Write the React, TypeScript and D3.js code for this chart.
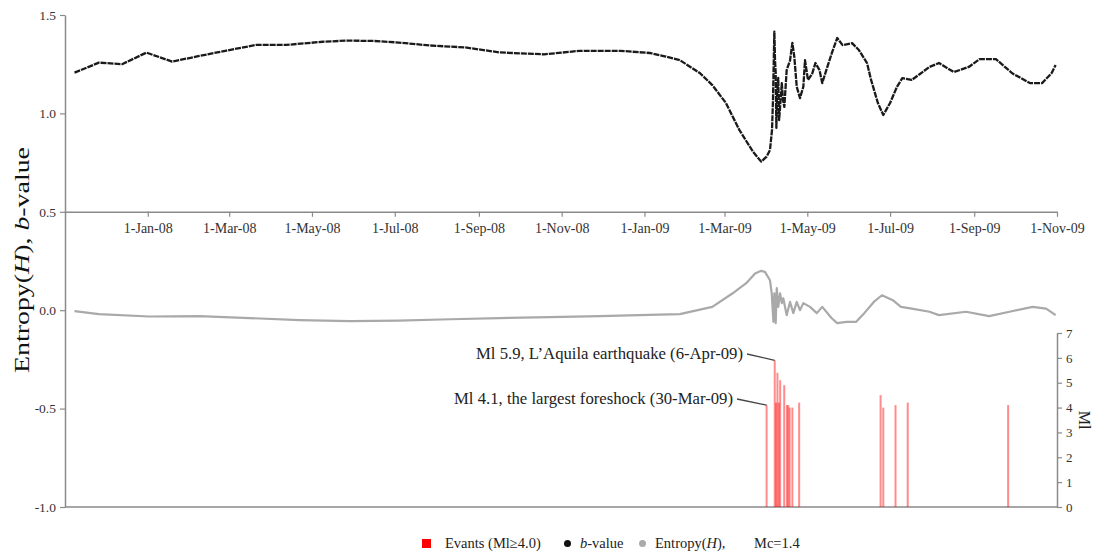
import React, { useEffect, useRef } from "react";
import * as d3 from "d3";

// b-value series
const bDates = [
  "2007-11-08", "2007-11-26", "2007-12-13", "2007-12-31", "2008-01-19", "2008-02-08",
  "2008-02-28", "2008-03-21", "2008-04-12", "2008-05-09", "2008-05-27", "2008-06-16",
  "2008-07-04", "2008-07-27", "2008-08-22", "2008-09-16", "2008-10-19", "2008-11-14",
  "2008-12-14", "2009-01-05", "2009-01-16", "2009-01-27", "2009-02-11", "2009-02-20",
  "2009-03-02", "2009-03-12", "2009-03-22", "2009-03-28", "2009-04-01", "2009-04-03 12:00",
  "2009-04-05 00:00", "2009-04-05 17:00", "2009-04-06 17:00", "2009-04-07 05:00", "2009-04-07 17:00",
  "2009-04-08 05:00", "2009-04-08 17:00", "2009-04-09 14:00", "2009-04-10 05:00", "2009-04-10 22:00",
  "2009-04-12 05:00", "2009-04-13 02:00", "2009-04-14 02:00", "2009-04-15 19:00", "2009-04-18 07:00",
  "2009-04-20", "2009-04-21 10:00", "2009-04-23 05:00", "2009-04-25 14:00", "2009-04-28 02:00",
  "2009-04-29 07:00", "2009-05-01 12:00", "2009-05-04 12:00", "2009-05-07", "2009-05-10",
  "2009-05-12", "2009-05-15", "2009-05-19", "2009-05-23", "2009-05-27", "2009-06-03",
  "2009-06-08", "2009-06-14", "2009-06-17", "2009-06-22", "2009-06-26", "2009-07-01",
  "2009-07-06", "2009-07-10", "2009-07-17", "2009-07-23", "2009-07-30", "2009-08-06",
  "2009-08-17", "2009-08-28", "2009-09-05", "2009-09-17", "2009-09-29", "2009-10-12",
  "2009-10-21", "2009-10-28", "2009-10-31",
];
const bValues = [
  1.207, 1.258, 1.25, 1.309, 1.263, 1.292,
  1.319, 1.348, 1.348, 1.364, 1.37, 1.368,
  1.36, 1.345, 1.335, 1.31, 1.3, 1.318,
  1.318, 1.307, 1.29, 1.271, 1.204, 1.144,
  1.053, 0.915, 0.805, 0.755, 0.78, 0.814,
  0.916, 1.068, 1.415, 1.27, 1.205,
  0.926, 1.09, 1.18, 0.966, 1.03,
  1.154, 1.068, 1.033, 1.22, 1.27,
  1.358, 1.288, 1.136, 1.078, 1.136,
  1.27, 1.17, 1.2, 1.256, 1.22,
  1.154, 1.22, 1.305, 1.383, 1.347, 1.357,
  1.322, 1.256, 1.17, 1.053, 0.992, 1.053,
  1.134, 1.179, 1.17, 1.2, 1.236, 1.256,
  1.21, 1.236, 1.276, 1.276, 1.204, 1.154,
  1.154, 1.204, 1.246,
];

// Entropy(H) series
const hDates = [
  "2007-11-08", "2007-11-26", "2008-01-02", "2008-02-08", "2008-03-16", "2008-04-22",
  "2008-05-29", "2008-07-04", "2008-08-11", "2008-09-16", "2008-10-23", "2008-11-29",
  "2008-12-28", "2009-01-27", "2009-02-20", "2009-03-07", "2009-03-17", "2009-03-23 12:00",
  "2009-03-28", "2009-03-30 19:00", "2009-04-03 12:00", "2009-04-04 19:00", "2009-04-06 00:00",
  "2009-04-06 17:00", "2009-04-07 17:00", "2009-04-08 12:00", "2009-04-09 14:00", "2009-04-10 22:00",
  "2009-04-12 05:00", "2009-04-13 07:00", "2009-04-15 19:00", "2009-04-18 07:00", "2009-04-20 17:00",
  "2009-04-23 05:00", "2009-04-25 14:00", "2009-04-28 02:00", "2009-05-03", "2009-05-08",
  "2009-05-12", "2009-05-19", "2009-05-23", "2009-05-30", "2009-06-06", "2009-06-12",
  "2009-06-19", "2009-06-25", "2009-07-03", "2009-07-09", "2009-07-17", "2009-07-30",
  "2009-08-06", "2009-08-26", "2009-09-12", "2009-09-27", "2009-10-14", "2009-10-24",
  "2009-10-31",
];
const hValues = [
  -0.005, -0.02, -0.032, -0.03, -0.04, -0.05,
  -0.056, -0.053, -0.046, -0.04, -0.035, -0.03,
  -0.025, -0.02, 0.017, 0.086, 0.137, 0.187,
  0.2, 0.195, 0.152, 0.086, -0.059,
  0.086, -0.066, 0.112, 0.017, 0.086,
  0.036, 0.061, -0.025, 0.042, -0.015,
  0.042, 0.0, 0.036, 0.017, -0.015,
  0.017, -0.041, -0.066, -0.059, -0.059, -0.015,
  0.042, 0.076, 0.051, 0.017, 0.008, -0.008,
  -0.025, -0.008, -0.03, -0.008, 0.017, 0.008,
  -0.025,
];

// Events Ml >= 4.0
const eventDates = [
  "2009-04-01", "2009-04-07", "2009-04-08", "2009-04-09", "2009-04-10", "2009-04-11",
  "2009-04-14", "2009-04-16", "2009-04-17", "2009-04-18", "2009-04-20", "2009-04-25",
  "2009-06-24", "2009-06-26", "2009-07-05", "2009-07-14", "2009-09-26",
];
const eventMl = [
  4.1, 5.9, 4.2, 5.4, 4.2, 5.1,
  4.9, 4.1, 4.1, 4.0, 4.0, 4.2,
  4.5, 4.0, 4.1, 4.2, 4.1,
];

const dateTicks = [
  "2008-01-01", "2008-03-01", "2008-05-01", "2008-07-01", "2008-09-01", "2008-11-01",
  "2009-01-01", "2009-03-01", "2009-05-01", "2009-07-01", "2009-09-01", "2009-11-01",
];
const leftTicks = [-1, -0.5, 0, 0.5, 1, 1.5];
const mlTicks = [0, 1, 2, 3, 4, 5, 6, 7];

const parseA = d3.timeParse("%Y-%m-%d %H:%M");
const parseB = d3.timeParse("%Y-%m-%d");
const parse = (s: string) => parseA(s) || parseB(s);

const FONT = "'Liberation Serif', 'Times New Roman', serif";
const AXIS = "#8a8a8a";
const TEXT = "#333";

const App = () => {
  const svgRef = useRef<SVGSVGElement>(null);
  const width = 1099;
  const height = 556;

  useEffect(() => {
    const svg = d3.select(svgRef.current);
    svg.selectAll("*").remove();
    svg.attr("width", width).attr("height", height);

    const x = d3
      .scaleTime()
      .domain([parse("2007-11-01"), parse("2009-11-01")] as Date[])
      .range([65, 1057]);
    const y = d3.scaleLinear().domain([-1, 1.5]).range([507, 15]);
    const ml = d3.scaleLinear().domain([0, 7]).range([507, 333]);

    const styleAxis = (g: any, size = 13) => {
      g.attr("font-family", FONT).attr("font-size", size);
      g.selectAll("path").attr("stroke", AXIS).attr("stroke-width", 1.5);
      g.selectAll("line").attr("stroke", AXIS).attr("stroke-width", 1.2);
      g.selectAll("text")
        .attr("fill", TEXT)
        .style("font-family", FONT)
        .style("font-size", `${size}px`);
    };

    // left axis
    const gl = svg
      .append("g")
      .attr("transform", "translate(65,0)")
      .call(
        d3.axisLeft(y)
          .tickValues(leftTicks)
          .tickFormat((d: any) => (+d).toFixed(1))
          .tickSize(5)
          .tickSizeOuter(0)
          .tickPadding(4)
      );
    styleAxis(gl, 13.5);

    // date axis through 0.5
    const gd = svg
      .append("g")
      .attr("transform", `translate(0,${y(0.5)})`)
      .call(
        d3.axisBottom(x)
          .tickValues(dateTicks.map(parse) as Date[])
          .tickFormat(d3.timeFormat("%-d-%b-%y") as any)
          .tickSize(5)
          .tickSizeOuter(0)
          .tickPadding(6)
      );
    styleAxis(gd, 14);

    // bottom baseline
    svg
      .append("line")
      .attr("x1", 65)
      .attr("x2", 1057)
      .attr("y1", y(-1))
      .attr("y2", y(-1))
      .attr("stroke", AXIS)
      .attr("stroke-width", 1.5);

    // right Ml axis
    const gr = svg
      .append("g")
      .attr("transform", "translate(1057,0)")
      .call(d3.axisRight(ml).tickValues(mlTicks).tickFormat(d3.format("d") as any).tickSize(5).tickSizeOuter(0).tickPadding(4));
    styleAxis(gr, 13);

    // events
    svg
      .append("g")
      .selectAll("rect")
      .data(eventDates.map((d, i) => ({ date: parse(d) as Date, v: eventMl[i] })))
      .enter()
      .append("rect")
      .attr("x", (d) => x(d.date) - 1)
      .attr("width", 2)
      .attr("y", (d) => ml(d.v))
      .attr("height", (d) => ml(0) - ml(d.v))
      .attr("fill", "#ff0000")
      .attr("fill-opacity", 0.45);

    // lines
    const line = d3
      .line<{ date: Date; v: number }>()
      .x((d) => x(d.date))
      .y((d) => y(d.v));

    svg
      .append("path")
      .datum(hDates.map((d, i) => ({ date: parse(d) as Date, v: hValues[i] })))
      .attr("d", line)
      .attr("fill", "none")
      .attr("stroke", "#a9a9a9")
      .attr("stroke-width", 2.2)
      .attr("stroke-linejoin", "round");

    svg
      .append("path")
      .datum(bDates.map((d, i) => ({ date: parse(d) as Date, v: bValues[i] })))
      .attr("d", line)
      .attr("fill", "none")
      .attr("stroke", "#1a1a1a")
      .attr("stroke-width", 2.3)
      .attr("stroke-linejoin", "round")
      .attr("stroke-dasharray", "6 1");

    // annotations
    const notes = [
      { text: "Ml 5.9, L\u2019Aquila earthquake (6-Apr-09)", end: 743, base: 359, len: 267, date: "2009-04-07", v: 5.9 },
      { text: "Ml 4.1, the largest foreshock (30-Mar-09)", end: 733, base: 404, len: 279, date: "2009-04-01", v: 4.1 },
    ];
    notes.forEach((n) => {
      svg
        .append("text")
        .attr("x", n.end)
        .attr("y", n.base)
        .attr("text-anchor", "end")
        .attr("textLength", n.len)
        .attr("lengthAdjust", "spacingAndGlyphs")
        .attr("fill", "#222")
        .style("font-family", FONT)
        .style("font-size", "17px")
        .text(n.text);
      svg
        .append("line")
        .attr("x1", n.end + 4)
        .attr("y1", n.base - 5)
        .attr("x2", x(parse(n.date) as Date))
        .attr("y2", ml(n.v))
        .attr("stroke", "#444")
        .attr("stroke-width", 1.3);
    });

    // y title
    const title = svg
      .append("text")
      .attr("transform", "translate(29,260) rotate(-90)")
      .attr("text-anchor", "middle")
      .attr("textLength", 226)
      .attr("lengthAdjust", "spacingAndGlyphs")
      .attr("fill", "#111")
      .style("font-family", FONT)
      .style("font-size", "20px");
    title.append("tspan").text("Entropy(");
    title.append("tspan").style("font-style", "italic").text("H");
    title.append("tspan").text("), ");
    title.append("tspan").style("font-style", "italic").text("b");
    title.append("tspan").text("-value");

    svg
      .append("text")
      .attr("transform", "translate(1079,420) rotate(90)")
      .attr("text-anchor", "middle")
      .attr("fill", "#222")
      .style("font-family", FONT)
      .style("font-size", "16px")
      .text("Ml");

    // legend
    const lg = svg.append("g").attr("fill", "#222");
    const legendText = (xp: number) =>
      lg
        .append("text")
        .attr("x", xp)
        .attr("y", 548)
        .style("font-family", FONT)
        .style("font-size", "14.5px");
    lg.append("rect").attr("x", 422).attr("y", 539).attr("width", 9).attr("height", 9).attr("fill", "#ff0000");
    legendText(445).text("Evants (Ml\u22654.0)");
    lg.append("circle").attr("cx", 567.5).attr("cy", 543.5).attr("r", 3.5).attr("fill", "#111");
    const bt = legendText(580);
    bt.append("tspan").style("font-style", "italic").text("b");
    bt.append("tspan").text("-value");
    lg.append("circle").attr("cx", 642.5).attr("cy", 543.5).attr("r", 3.5).attr("fill", "#aaa");
    const et = legendText(655);
    et.append("tspan").text("Entropy(");
    et.append("tspan").style("font-style", "italic").text("H");
    et.append("tspan").text("),");
    legendText(754).text("Mc=1.4");
  }, []);

  return (
    <svg
      ref={svgRef}
      style={{ position: "absolute", left: 0, top: 0, background: "#fff" }}
    ></svg>
  );
};

export default App;
